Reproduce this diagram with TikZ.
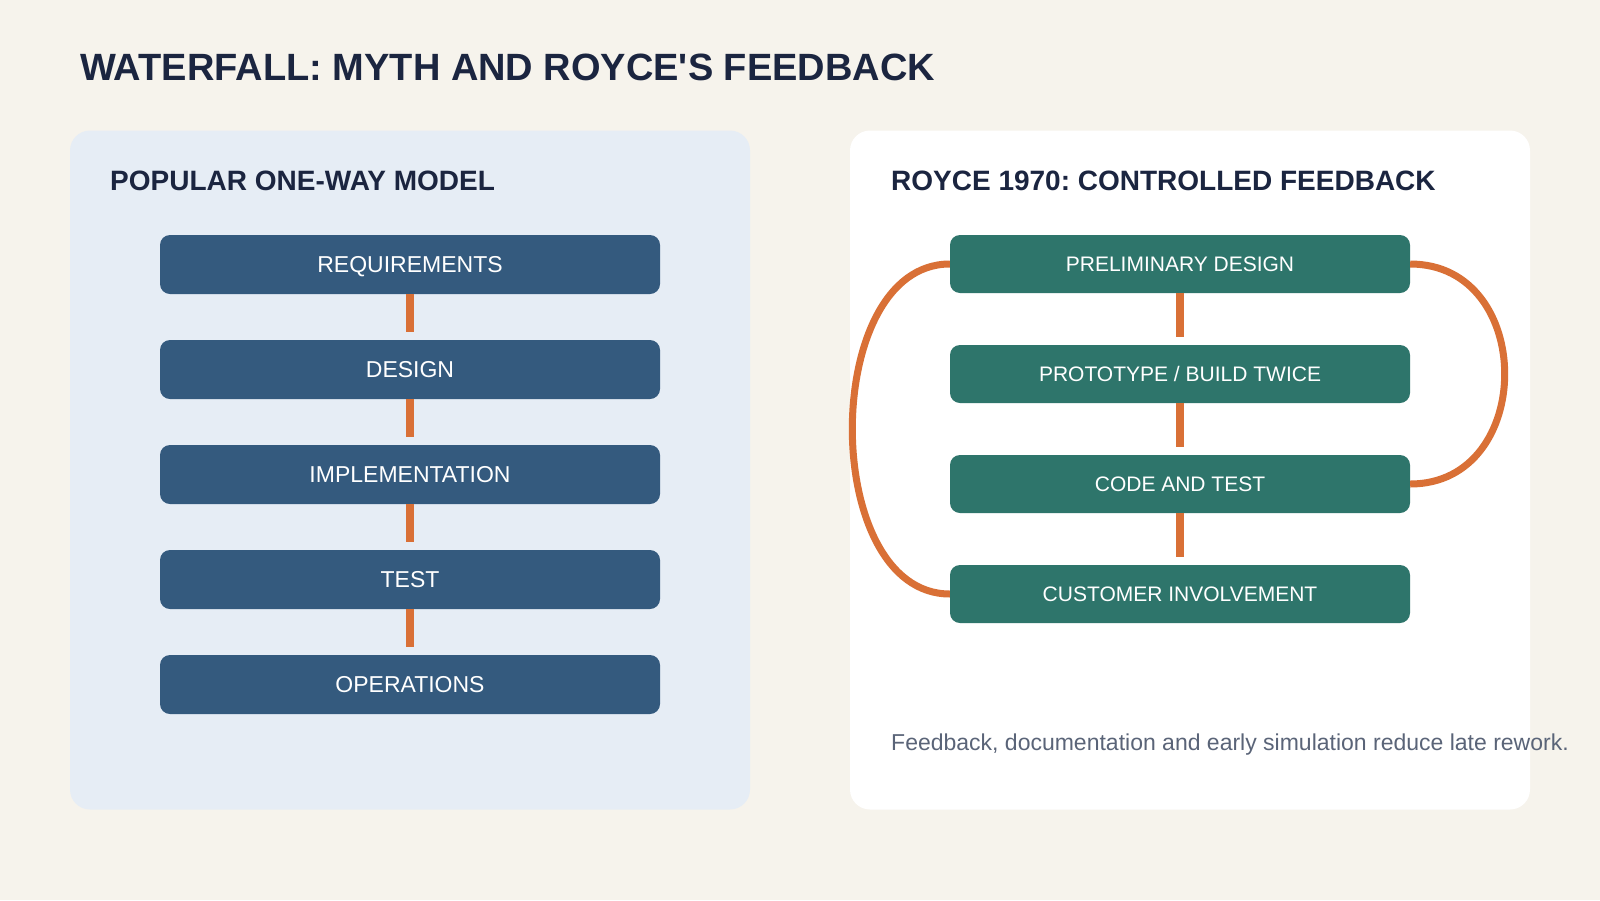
\documentclass[tikz,border=0pt]{standalone}
\usepackage{fontspec}
\setmainfont{Liberation Sans}
\usepackage{xcolor}
\usetikzlibrary{positioning, calc}
\definecolor{cream}{RGB}{246,243,236}
\definecolor{paleblue}{RGB}{230,237,245}
\definecolor{navy}{RGB}{27,37,64}
\definecolor{steel}{RGB}{52,90,126}
\definecolor{tealbox}{RGB}{46,117,107}
\definecolor{burnt}{RGB}{217,112,54}
\definecolor{slate}{RGB}{90,100,120}
\frenchspacing

\begin{document}
\begin{tikzpicture}[
    x=1pt, y=-1pt,
    panel/.style={rectangle, rounded corners=20pt, draw=none,
                  minimum width=680pt, minimum height=679pt, inner sep=0pt},
    wbox/.style={rectangle, rounded corners=10pt, fill=steel, text=white,
                 minimum width=500pt, minimum height=59pt, inner sep=0pt,
                 text depth=0pt, font=\fontsize{23}{27}\selectfont},
    rbox/.style={rectangle, rounded corners=10pt, fill=tealbox, text=white,
                 minimum width=460pt, minimum height=58pt, inner sep=0pt,
                 text depth=0pt, font=\fontsize{21}{25}\selectfont},
    head/.style={anchor=base west, text=navy, inner sep=0pt,
                 font=\bfseries\fontsize{28}{32}\selectfont},
    link/.style={line width=8pt, color=burnt},
    fb/.style={line width=7pt, color=burnt},
]

%% ─── canvas ──────────────────────────────────────────────────
\fill[cream] (0,0) rectangle (1600,900);
\useasboundingbox (0,0) rectangle (1600,900);

\node[anchor=base west, text=navy, inner sep=0pt,
      font=\bfseries\fontsize{38}{44}\selectfont]
      (title) at (80,80) {WATERFALL: MYTH AND ROYCE\textquotesingle S FEEDBACK};

%% ─── panels ──────────────────────────────────────────────────
\node[panel, fill=paleblue] (lpanel) at (410,470) {};
\node[panel, fill=white]    (rpanel) at (1190,470) {};

\node[head] (lhead) at (110,190) {POPULAR ONE-WAY MODEL};
\node[head] (rhead) at (891,190) {ROYCE 1970: CONTROLLED FEEDBACK};

%% ─── one-way model ───────────────────────────────────────────
\node[wbox] (req) at (410,264.5) {REQUIREMENTS};
\node[wbox] (des) at (410,369.5) {DESIGN};
\node[wbox] (imp) at (410,474.5) {IMPLEMENTATION};
\node[wbox] (tst) at (410,579.5) {TEST};
\node[wbox] (ops) at (410,684.5) {OPERATIONS};

\draw[link] (req.south) -- ([yshift=7.5pt]des.north);
\draw[link] (des.south) -- ([yshift=7.5pt]imp.north);
\draw[link] (imp.south) -- ([yshift=7.5pt]tst.north);
\draw[link] (tst.south) -- ([yshift=7.5pt]ops.north);

%% ─── Royce model ─────────────────────────────────────────────
\node[rbox] (pre) at (1180,264) {PRELIMINARY DESIGN};
\node[rbox] (pro) at (1180,374) {PROTOTYPE / BUILD TWICE};
\node[rbox] (cod) at (1180,484) {CODE AND TEST};
\node[rbox] (cus) at (1180,594) {CUSTOMER INVOLVEMENT};

\draw[link] (pre.south) -- ([yshift=7.5pt]pro.north);
\draw[link] (pro.south) -- ([yshift=7.5pt]cod.north);
\draw[link] (cod.south) -- ([yshift=7.5pt]cus.north);

% feedback loops
\draw[fb] (pre.west) .. controls +(-130,0) and +(-130,0) .. (cus.west);
\draw[fb] (pre.east) .. controls +(126,0) and +(126,0) .. (cod.east);

\node[anchor=base west, text=slate, inner sep=0pt,
      font=\fontsize{23}{27}\selectfont]
      (note) at (891,750)
      {Feedback, documentation and early simulation reduce late rework.};

\end{tikzpicture}
\end{document}
